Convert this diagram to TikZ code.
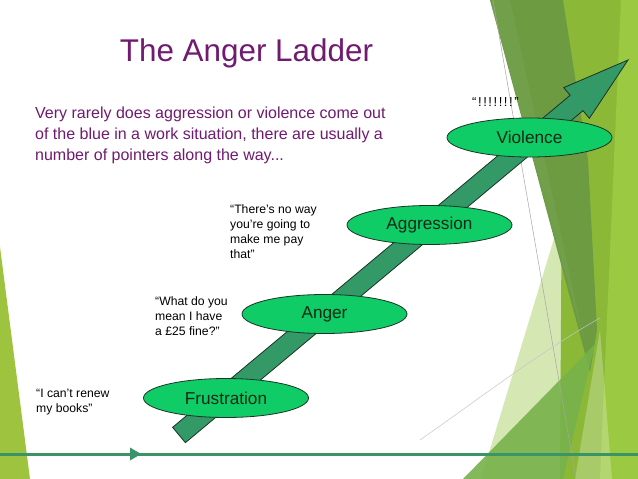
\documentclass[tikz,border=0pt]{standalone}
\usepackage{fontspec}
\setmainfont{Liberation Sans}
\usetikzlibrary{calc,shapes.geometric}
\definecolor{purp}{HTML}{701A70}
\definecolor{ellgreen}{HTML}{0FCC66}
\definecolor{arrowgreen}{HTML}{339966}
\definecolor{outl}{HTML}{1B3326}
\definecolor{rungtext}{HTML}{0E2A16}
\definecolor{linegreen}{HTML}{3B9468}
\definecolor{lefttri}{HTML}{9DC33F}
\definecolor{ygreen}{HTML}{8BB937}
\definecolor{ylight}{HTML}{9BC942}
\definecolor{olive}{HTML}{6C9B41}
\definecolor{oliveL}{HTML}{77A34F}
\definecolor{pale}{HTML}{D5E7B3}
\definecolor{midgreen}{HTML}{77B24A}
\tikzset{
  rung/.style={ellipse, draw=outl, line width=0.8pt, fill=ellgreen,
    minimum width=165pt, minimum height=39pt, inner sep=0pt,
    font=\fontsize{17.2}{20}\selectfont, text=rungtext},
  quote/.style={anchor=north west, align=left, inner sep=0pt,
    font=\fontsize{12.2}{15.2}\selectfont, text=black},
  arrowbody/.style={fill=arrowgreen, draw=outl, line width=0.8pt, line join=miter},
  thinline/.style={draw=gray!70, line width=0.5pt},
  bottomline/.style={draw=linegreen, line width=3pt}
}
\begin{document}
\begin{tikzpicture}[x=1pt,y=-1pt]
\useasboundingbox (0,0) rectangle (638,479);
\fill[white] (0,0) rectangle (638,479);
% background facets
\fill[lefttri] (0,247) -- (30,479) -- (0,479) -- cycle;
\fill[pale] (556,232) -- (481,479) -- (600,479) -- cycle;
\fill[ygreen] (563,0) -- (638,0) -- (638,479) -- (560,479) -- cycle;
\fill[ylight] (621,0) -- (638,0) -- (638,479) -- (600,479) -- cycle;
\fill[olive] (490,0) -- (563,0) -- (588,160) -- (597,330) -- (590,372) -- cycle;
\fill[oliveL, opacity=0.6] (490,0) -- (510,0) -- (585,345) -- cycle;
\fill[midgreen, opacity=0.9] (463,479) -- (595,344) -- (563,479) -- cycle;
\fill[white, opacity=0.25] (600,330) -- (612,479) -- (575,479) -- cycle;
\draw[thinline] (493,0) -- (576,479);
\draw[draw=gray!45, line width=0.5pt] (420,440) .. controls (480,398) and (540,352) .. (600,318);
% bottom line
\coordinate (lineL) at (0,454);
\coordinate (lineR) at (638,454);
\draw[bottomline] (lineL) -- (lineR);
\fill[linegreen] (130,447.5) -- (141,454) -- (130,460.5) -- cycle;
% title and text
\node[anchor=base, inner sep=0pt, text=purp, font=\fontsize{31.4}{36}\selectfont] (title) at (246.5,61) {The Anger Ladder};
\node[anchor=north west, align=left, inner sep=0pt, text=purp, font=\fontsize{16}{21}\selectfont] (intro) at (35,106.5)
  {Very rarely does aggression or violence come out\\of the blue in a work situation, there are usually a\\number of pointers along the way...};
% arrow
\coordinate (tail) at (179,435);
\coordinate (tip) at (628,60);
\coordinate (hb) at ($(tail)!518pt!(tip)$);
\draw[arrowbody] ($(tail)!10pt!90:(tip)$) -- ($(hb)!10pt!90:(tip)$) -- ($(hb)!20pt!90:(tip)$) -- (tip)
  -- ($(hb)!20pt!-90:(tip)$) -- ($(hb)!10pt!-90:(tip)$) -- ($(tail)!10pt!-90:(tip)$) -- cycle;
% rungs
\node[rung] (frus) at (226,398) {Frustration};
\node[rung] (anger) at (324.5,314) {Anger};
\node[rung] (aggr) at (429.5,225) {Aggression};
\node[rung] (viol) at (529.5,137.5) {Violence};
% quotes
\node[quote] (q1) at (36,389) {“I can’t renew\\my books”};
\node[quote] (q2) at (155,296) {“What do you\\mean I have\\a £25 fine?”};
\node[quote] (q3) at (230,204) {“There’s no way\\you’re going to\\make me pay\\that”};
\node[quote, font=\fontsize{13}{15.2}\selectfont\addfontfeatures{LetterSpace=12}] (q4) at (472,97) {“!!!!!!!”};
\end{tikzpicture}
\end{document}
